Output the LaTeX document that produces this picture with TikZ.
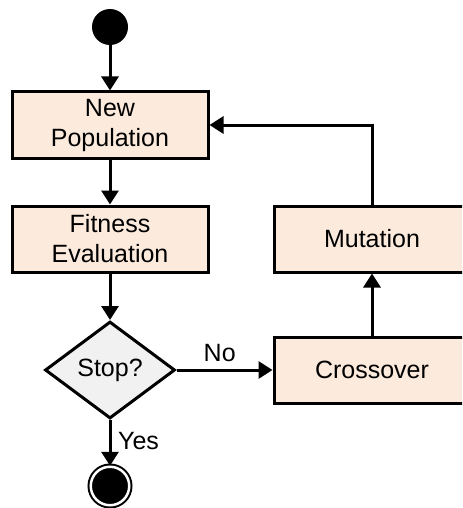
\documentclass[tikz,border=0pt]{standalone}
\usepackage{fontspec}
\setmainfont{Liberation Sans}
\usetikzlibrary{arrows.meta,shapes.geometric}
\definecolor{boxfill}{RGB}{252,234,221}
\definecolor{decfill}{RGB}{241,241,241}
\tikzset{
  stepbox/.style={draw,rectangle,fill=boxfill,line width=1.5pt,
    minimum width=98pt,minimum height=33pt,align=center,font=\fontsize{12.5}{15}\selectfont},
  decision/.style={draw,diamond,fill=decfill,line width=1.5pt,aspect=1.34,
    minimum width=65pt,minimum height=48.5pt,inner sep=0pt,font=\fontsize{12.5}{15}\selectfont},
  flow/.style={-{Triangle[length=7pt,width=8.5pt]},line width=1.5pt},
  lbl/.style={font=\fontsize{12.5}{15}\selectfont}
}

\begin{document}
\begin{tikzpicture}[x=0.5pt,y=-0.5pt]

  % frame of the picture (right boxes are cut off)
  \useasboundingbox (0,0) rectangle (462,508);
  \clip (0,0) rectangle (462,508);

  % start and end
  \node[circle,fill=black,minimum size=18pt,inner sep=0pt] (start) at (110,27) {};
  \node[circle,fill=black,draw=black,line width=1pt,double=white,double distance=1.25pt,
    minimum size=19.25pt,inner sep=0pt] (finish) at (110,486) {};

  % left column
  \node[stepbox] (newpop) at (110,125) {New\\Population};
  \node[stepbox] (fitness) at (110,239) {Fitness\\Evaluation};
  \node[decision] (stop) at (110,370) {Stop?};

  % right column
  \node[stepbox] (mutation) at (372,239) {Mutation};
  \node[stepbox] (crossover) at (372,370) {Crossover};

  % arrows
  \draw[flow] (start) -- (newpop);
  \draw[flow] (newpop) -- (fitness);
  \draw[flow] (fitness) -- (stop);
  \draw[flow] (stop) -- node[lbl,above,pos=0.45] {No} (crossover);
  \draw[flow] (stop) -- node[lbl,right,pos=0.45] {Yes} (finish);
  \draw[flow] (crossover) -- (mutation);
  \draw[flow] (mutation.north) |- (newpop.east);

\end{tikzpicture}
\end{document}
